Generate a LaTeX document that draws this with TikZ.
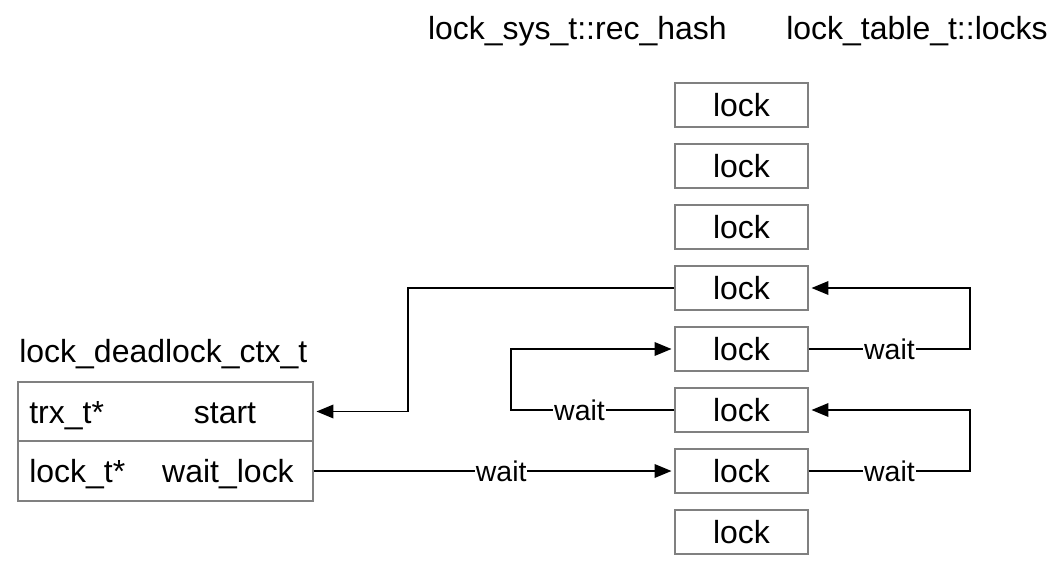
\documentclass[tikz,border=0pt]{standalone}
\usepackage{fontspec}
\setmainfont{Liberation Sans}
\usepackage{xcolor}
\usepackage{tikz}
\usetikzlibrary{shapes.geometric, arrows.meta}
\tikzstyle{lockbox} = [draw=gray, line width=1.1pt, minimum width=2.66cm, minimum height=0.88cm, inner sep=0pt, font=\fontsize{18.2}{22}\selectfont]
\tikzstyle{field} = [draw=gray, line width=1.1pt, minimum width=5.9cm, minimum height=1.19cm, inner sep=0pt]
\tikzstyle{title} = [inner sep=0pt, font=\fontsize{18.2}{22}\selectfont]
\tikzstyle{link} = [line width=1.1pt, -{Triangle[length=0.34cm,width=0.27cm]}, shorten >=0.05cm]
\tikzstyle{waitlabel} = [fill=white, inner sep=0.5pt, font=\fontsize{16.2}{18}\selectfont]

\begin{document}
\begin{tikzpicture}[x=0.02cm,y=-0.02cm]
				\useasboundingbox (0,0) rectangle (1061,567);
				% Headers:
				\node[title, anchor=base east] (hashname) at (727,40) {lock\_sys\_t::rec\_hash};
				\node[title, anchor=base west] (tablename) at (786,40) {lock\_table\_t::locks};
				\node[title, anchor=base west] (ctxname) at (19,362) {lock\_deadlock\_ctx\_t};
				
				% The lock column:
				\foreach \i in {1,...,8}{%
					\node[lockbox] (l\i) at (741.5,{105+61*(\i-1)}) {lock};
				}
				
				% The context struct, two rows:
				\node[field] (rowA) at (165.5,411.5) {};
				\node[field] (rowB) at (165.5,471) {};
				\node[title, anchor=base west] (trxtype) at (29,423) {trx\_t*};
				\node[title, anchor=base] (startname) at (225,423) {start};
				\node[title, anchor=base west] (locktype) at (29,482) {lock\_t*};
				\node[title, anchor=base] (waitname) at (228,482) {wait\_lock};
				
				% Links:
				\draw[link] (l4.west) -- ++(-266,0) |- (rowA.east);
				\draw[link] (rowB.east) -- node[waitlabel, pos=0.52] (w1) {wait} (l7.west);
				\draw[link] (l6.west) -- node[waitlabel, pos=0.58] (w2) {wait} ++(-163,0) |- (l5.west);
				\draw[link] (l5.east) -- node[waitlabel, pos=0.5] (w3) {wait} ++(161,0) |- (l4.east);
				\draw[link] (l7.east) -- node[waitlabel, pos=0.5] (w4) {wait} ++(161,0) |- (l6.east);
				\end{tikzpicture}
\end{document}
